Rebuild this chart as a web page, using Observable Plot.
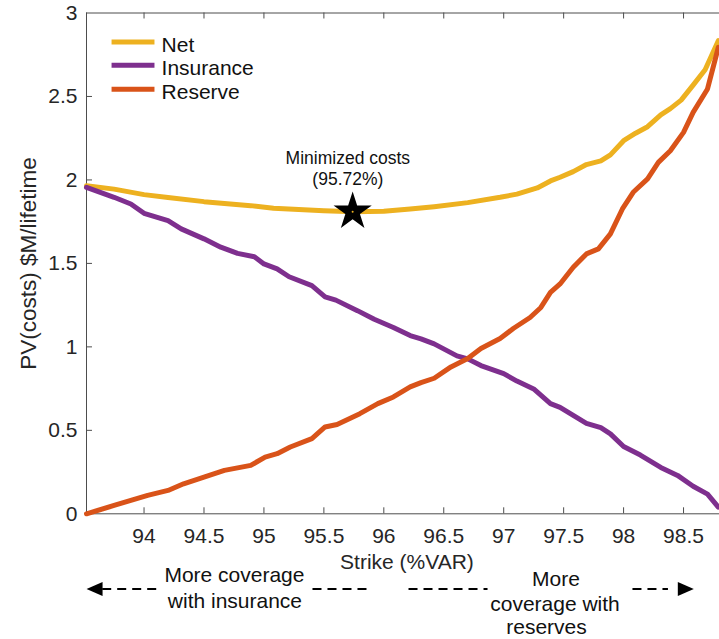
<!DOCTYPE html>
<html>
<head>
<meta charset="utf-8">
<script src="https://cdn.jsdelivr.net/npm/d3@7"></script>
<script src="https://cdn.jsdelivr.net/npm/@observablehq/plot@0.6"></script>
<style>
html,body{margin:0;padding:0;background:#fff;overflow:hidden}
</style>
</head>
<body>
<div id="chart"></div>
<script>
// ---- data ----
const seriesNames = ["Net", "Insurance", "Reserve"];
const seriesColors = ["#EDB120", "#7E2F8E", "#D95319"];

const netStrike = [93.52, 93.75, 94.00, 94.20, 94.50, 94.89, 95.08, 95.50, 95.75, 96.00, 96.22, 96.42, 96.70, 96.97, 97.11, 97.28, 97.39, 97.47, 97.58, 97.69, 97.81, 97.89, 98.00, 98.10, 98.20, 98.31, 98.39, 98.48, 98.58, 98.68, 98.79];
const netCost   = [1.965, 1.945, 1.912, 1.895, 1.870, 1.846, 1.830, 1.816, 1.810, 1.812, 1.826, 1.840, 1.864, 1.896, 1.915, 1.952, 1.994, 2.016, 2.050, 2.092, 2.114, 2.150, 2.235, 2.280, 2.319, 2.390, 2.427, 2.478, 2.568, 2.660, 2.834];

const insStrike = [93.52, 93.75, 93.89, 94.00, 94.20, 94.31, 94.50, 94.64, 94.78, 94.92, 95.00, 95.11, 95.21, 95.40, 95.51, 95.60, 95.78, 95.92, 96.08, 96.22, 96.31, 96.42, 96.61, 96.70, 96.81, 97.00, 97.11, 97.25, 97.39, 97.47, 97.58, 97.69, 97.81, 97.89, 98.00, 98.14, 98.31, 98.45, 98.58, 98.70, 98.79];
const insCost   = [1.955, 1.896, 1.856, 1.800, 1.756, 1.707, 1.647, 1.597, 1.560, 1.540, 1.497, 1.467, 1.420, 1.367, 1.300, 1.280, 1.217, 1.165, 1.116, 1.068, 1.048, 1.018, 0.946, 0.928, 0.888, 0.840, 0.795, 0.748, 0.660, 0.638, 0.589, 0.542, 0.516, 0.479, 0.403, 0.352, 0.278, 0.230, 0.165, 0.118, 0.040];

const resStrike = [93.52, 93.75, 93.89, 94.03, 94.20, 94.33, 94.50, 94.67, 94.89, 95.01, 95.11, 95.22, 95.40, 95.51, 95.61, 95.80, 95.95, 96.08, 96.22, 96.31, 96.42, 96.56, 96.70, 96.81, 96.97, 97.08, 97.22, 97.31, 97.39, 97.47, 97.58, 97.69, 97.79, 97.89, 97.99, 98.08, 98.20, 98.29, 98.39, 98.50, 98.58, 98.70, 98.79];
const resCost   = [0.000, 0.050, 0.080, 0.110, 0.140, 0.180, 0.220, 0.260, 0.290, 0.340, 0.360, 0.400, 0.450, 0.520, 0.535, 0.600, 0.660, 0.700, 0.760, 0.786, 0.812, 0.880, 0.930, 0.990, 1.050, 1.110, 1.176, 1.236, 1.326, 1.377, 1.477, 1.557, 1.587, 1.677, 1.826, 1.926, 2.006, 2.105, 2.175, 2.285, 2.405, 2.545, 2.794];

const minStrike = 95.74, minCost = 1.81;
const minLabel = "Minimized costs\n(95.72%)";

const strikeTicks = [94, 94.5, 95, 95.5, 96, 96.5, 97, 97.5, 98, 98.5];
const costTicks = [0, 0.5, 1, 1.5, 2, 2.5, 3];
const xDomain = [93.52, 98.8];
const yDomain = [0, 3];

const xLabel = "Strike (%VAR)";
const yLabel = "PV(costs) $M/lifetime";

// annotation below the axis (in data units)
const noteTexts = [
  {x: 94.754, y: -0.371, t: "More coverage"},
  {x: 94.758, y: -0.521, t: "with insurance"},
  {x: 97.436, y: -0.391, t: "More"},
  {x: 97.428, y: -0.541, t: "coverage with"},
  {x: 97.357, y: -0.678, t: "reserves"}
];
const noteDashes = [
  {x1: 93.651, x2: 94.143}, {x1: 95.405, x2: 95.889},
  {x1: 96.206, x2: 96.865}, {x1: 98.074, x2: 98.370}
];
const noteArrowY = -0.451;
const noteHeads = [{x: 93.587, dir: "left"}, {x: 98.519, dir: "right"}];

// legend rows (data units inside the frame)
const legendY = [2.826, 2.687, 2.543];
const legendX = [93.729, 94.087, 94.146];

// ---- build ----
const series = [
  {name: seriesNames[0], color: seriesColors[0], data: netStrike.map((s, i) => ({s, c: netCost[i]}))},
  {name: seriesNames[1], color: seriesColors[1], data: insStrike.map((s, i) => ({s, c: insCost[i]}))},
  {name: seriesNames[2], color: seriesColors[2], data: resStrike.map((s, i) => ({s, c: resCost[i]}))}
];

const headRight = {draw(ctx) { ctx.moveTo(8, 0); ctx.lineTo(-8, -7); ctx.lineTo(-8, 7); ctx.closePath(); }};
const headLeft  = {draw(ctx) { ctx.moveTo(-8, 0); ctx.lineTo(8, -7); ctx.lineTo(8, 7); ctx.closePath(); }};

const axisColor = "#4d4d4d";
const xTickLen = 6 / 167, yTickLen = 6 / 119.9;

const marks = [
  // frame lines (left, bottom, top)
  Plot.ruleX([xDomain[0]], {stroke: axisColor, strokeWidth: 1}),
  Plot.ruleY(yDomain, {stroke: axisColor, strokeWidth: 1}),
  // inward ticks
  Plot.ruleX(strikeTicks, {y1: 0, y2: xTickLen, stroke: axisColor}),
  Plot.ruleX(strikeTicks, {y1: 3, y2: 3 - xTickLen, stroke: axisColor}),
  Plot.ruleY(costTicks.slice(1, -1), {x1: xDomain[0], x2: xDomain[0] + yTickLen, stroke: axisColor}),
  // tick labels
  Plot.axisX({ticks: strikeTicks, tickSize: 0, tickPadding: 14, label: null, fontSize: 21, tickFormat: d => String(d)}),
  Plot.axisY({ticks: costTicks, tickSize: 0, tickPadding: 9, label: null, fontSize: 21, tickFormat: d => String(d)}),
  // series lines
  ...series.map(sr => Plot.line(sr.data, {x: "s", y: "c", stroke: sr.color, strokeWidth: 5, strokeLinejoin: "round"})),
  // minimum marker
  Plot.dot([{s: minStrike, c: minCost}], {x: "s", y: "c", symbol: "star", r: 12, fill: "black", stroke: "none"}),
  Plot.dot([{s: minStrike, c: minCost}], {x: "s", y: "c", r: 1, fill: seriesColors[0], stroke: "none"}),
  Plot.text([{s: 95.70, c: 2.072, t: minLabel}], {x: "s", y: "c", text: "t", fontSize: 17.5, lineHeight: 1.2, fill: "#111"}),
  // legend
  ...series.map((sr, i) => Plot.link([legendY[i]], {x1: legendX[0], x2: legendX[1], y1: d => d, y2: d => d, stroke: sr.color, strokeWidth: 5})),
  Plot.text(seriesNames.map((n, i) => ({n, y: legendY[i] - 0.02})), {x: legendX[2], y: "y", text: "n", textAnchor: "start", fontSize: 21, fill: "#111"}),
  // axis titles
  Plot.text([xLabel], {x: 96.193, y: -0.289, text: d => d, fontSize: 21, fill: "#262626"}),
  Plot.text([yLabel], {frameAnchor: "left", textAnchor: "middle", dx: -58, rotate: -90, text: d => d, fontSize: 22.5, fill: "#262626"}),
  // bottom annotation
  Plot.link(noteDashes, {x1: "x1", x2: "x2", y1: noteArrowY, y2: noteArrowY, stroke: "black", strokeWidth: 2, strokeDasharray: "9,6"}),
  Plot.dot(noteHeads.filter(d => d.dir === "left"), {x: "x", y: noteArrowY, symbol: headLeft, r: 5, fill: "black", stroke: "none"}),
  Plot.dot(noteHeads.filter(d => d.dir === "right"), {x: "x", y: noteArrowY, symbol: headRight, r: 5, fill: "black", stroke: "none"}),
  Plot.text(noteTexts, {x: "x", y: "y", text: "t", fontSize: 21, fill: "#111"})
];

const chart = Plot.plot({
  width: 719,
  height: 639,
  marginLeft: 86,
  marginRight: 0,
  marginTop: 12.5,
  marginBottom: 125.7,
  style: {fontFamily: "'Liberation Sans', Arial, sans-serif", fontSize: "21px", color: "#262626", background: "#fff", overflow: "visible"},
  x: {domain: xDomain, label: null},
  y: {domain: yDomain, label: null},
  marks
});
document.getElementById("chart").appendChild(chart);
</script>
</body>
</html>
